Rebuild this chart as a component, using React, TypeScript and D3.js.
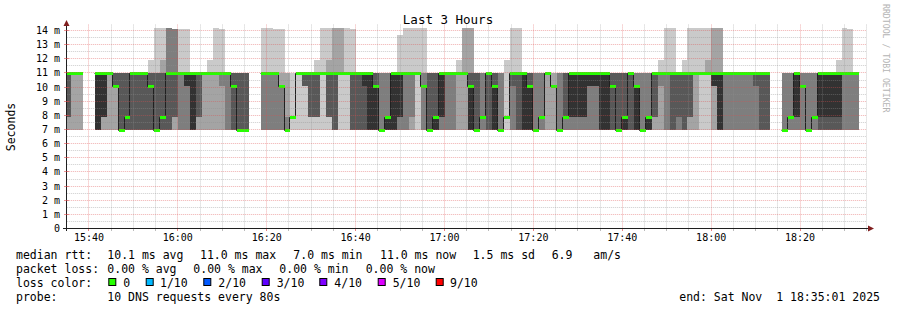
import React from "react";
import * as d3 from "d3";

// ---------- data ----------
const START = new Date(2025, 10, 1, 15, 35, 1);
const END = new Date(2025, 10, 1, 18, 35, 1);
const FIRST_STEP = new Date(2025, 10, 1, 15, 34, 40);
const STEP_SEC = 80;

// 10 sorted ping times (ms) per 80 s step; null = no data
const PINGS: (number[] | null)[] = [
  [7, 7, 7.9, 7.9, 11, 11, 11, 11, 11, 11],
  [7, 7, 11, 11, 11, 11, 11, 11, 11, 11],
  [7, 7, 11, 11, 11, 11, 11, 11, 11, 11],
  null,
  null,
  [7, 7, 7, 7, 7, 11, 11, 11, 11, 11],
  [7, 7, 7.9, 7.9, 7.9, 11, 11, 11, 11, 11],
  [7, 7, 11, 11, 11, 11, 11, 11, 11, 11],
  [7, 7, 10.1, 10.1, 10.1, 10.1, 11, 11, 11, 11],
  [7, 7, 7, 7, 7, 7, 11, 11, 11, 11],
  [7, 7, 7, 7, 7.9, 7.9, 11, 11, 11, 11],
  [7, 7, 7, 7, 11, 11, 11, 11, 11, 11],
  [7, 7, 7, 7, 11, 11, 11, 11, 11, 11],
  [7, 7, 7, 7, 11, 11, 11, 11, 11, 11],
  [7, 7, 7, 7, 10.1, 10.1, 11, 11, 11, 11.9],
  [7, 7, 7, 7, 7, 7, 11, 11, 11, 14.2],
  [7, 7, 7, 7, 7.9, 7.9, 11, 11, 11.9, 14.2],
  [7, 7, 7, 7, 11, 11, 11, 14.2, 14.2, 14.2],
  [7, 7, 7.9, 7.9, 11, 11, 11, 14.1, 14.1, 14.1],
  [7, 7, 7, 11, 11, 11, 11, 11, 11, 14.1],
  [7, 7, 7, 10.1, 10.1, 11, 11, 11, 11, 14.1],
  [7, 7, 7, 7, 7, 11, 11, 11, 11, 11],
  [7, 7, 7.9, 7.9, 11, 11, 11, 11, 11, 11],
  [7, 7, 11, 11, 11, 11, 11, 11, 11, 11],
  [7, 7, 11, 11, 11, 11, 11, 11, 11, 11.9],
  [7, 7, 11, 11, 11, 11, 11, 11, 11, 14.2],
  [7, 7, 10.1, 11, 11, 11, 11, 11, 11, 14.1],
  [7, 7, 7, 11, 11, 11, 11, 11, 11, 11],
  [7, 7, 7, 7, 10.1, 10.1, 11, 11, 11, 11],
  [7, 7, 7, 7, 7, 7, 11, 11, 11, 11],
  [7, 7, 7, 7, 7, 7, 11, 11, 11, 11],
  null,
  null,
  [7, 7, 7, 11, 11, 11, 11, 11, 11, 14.2],
  [7, 7, 7, 11, 11, 11, 11, 11, 11, 14.2],
  [7, 7, 7, 11, 11, 11, 11, 11, 11, 14.1],
  [7, 7, 7, 10.1, 10.1, 10.1, 10.1, 10.1, 11, 14.1],
  [7, 7, 7, 7, 7, 7, 7, 7.9, 11, 11],
  [7, 7.9, 7.9, 7.9, 7.9, 7.9, 7.9, 7.9, 7.9, 11],
  [7, 11, 11, 11, 11, 11, 11, 11, 11, 11],
  [7, 10.1, 10.1, 10.1, 11, 11, 11, 11, 11, 11],
  [7, 7.9, 7.9, 7.9, 11, 11, 11, 11, 11, 11],
  [7, 7.9, 7.9, 7.9, 11, 11, 11, 11, 11, 11.9],
  [7, 11, 11, 11, 11, 11, 11, 11, 11, 14.2],
  [7, 7.9, 7.9, 7.9, 11, 11, 11, 11, 11.9, 14.2],
  [7, 7, 7, 7, 11, 11, 11, 11, 14.2, 14.2],
  [7, 11, 11, 11, 11, 11, 11, 11, 14.2, 14.2],
  [7, 11, 11, 11, 11, 11, 11, 11, 11, 14.2],
  [7, 7, 7, 7, 11, 11, 11, 11, 11, 14.1],
  [7, 7, 7, 7, 11, 11, 11, 11, 11, 11],
  [7, 7, 7, 7, 10.1, 11, 11, 11, 11, 11],
  [7, 7, 7, 7, 7, 11, 11, 11, 11, 11],
  [7, 7, 7, 7, 7, 10.1, 11, 11, 11, 11],
  [7, 7, 7, 7, 7, 7, 7, 11, 11, 11],
  [7, 7, 7, 7, 7, 7.9, 7.9, 11, 11, 11],
  [7, 7, 7, 7, 7, 11, 11, 11, 11, 11],
  [7, 7, 7, 7.9, 7.9, 11, 11, 11, 11, 13.7],
  [7, 7, 7, 11, 11, 11, 11, 11, 11, 14.2],
  [7, 7, 7.9, 11, 11, 11, 11, 11, 11, 14.2],
  [7, 11, 11, 11, 11, 11, 11, 11, 11, 14.2],
  [7, 7, 7, 10.1, 10.1, 10.1, 10.1, 11, 11, 14.2],
  [7, 7, 7, 7, 7, 7, 11, 11, 11, 11],
  [7, 7, 7, 7, 7, 7.9, 11, 11, 11, 11],
  [7, 7, 7, 7.9, 7.9, 11, 11, 11, 11, 11],
  [7, 7, 7, 11, 11, 11, 11, 11, 11, 11],
  [7, 7, 7, 11, 11, 11, 11, 11, 11, 11],
  [7, 7, 11, 11, 11, 11, 11, 11, 11, 11.9],
  [7, 7, 11, 11, 11, 11, 11, 11, 14.2, 14.2],
  [7, 7, 7, 7, 7, 10.1, 11, 11, 14.2, 14.2],
  [7, 7, 7, 7, 7, 7, 11, 11, 11, 11],
  [7, 7, 7, 7.9, 7.9, 7.9, 7.9, 11, 11, 11],
  [7, 7, 7, 7, 11, 11, 11, 11, 11, 11],
  [7, 7, 7, 7, 7, 10.1, 11, 11, 11, 11],
  [7, 7, 7, 7, 7, 7, 7, 11, 11, 11],
  [7, 7.9, 7.9, 7.9, 7.9, 7.9, 7.9, 7.9, 7.9, 11.9],
  [7, 7, 7, 10.1, 11, 11, 11, 11, 11, 14.2],
  [7, 7, 7, 7, 11, 11, 11, 11, 11, 14.2],
  [7, 7, 7, 7, 7, 11, 11, 11, 11, 11],
  [7, 7, 7, 7, 7, 10.1, 11, 11, 11, 11],
  [7, 7, 7, 7, 7, 7, 7, 11, 11, 11],
  [7, 7, 7, 7.9, 7.9, 7.9, 7.9, 11, 11, 11],
  [7, 7, 11, 11, 11, 11, 11, 11, 11, 11],
  [7, 7, 10.1, 10.1, 10.1, 10.1, 10.1, 10.1, 11, 11],
  [7, 7, 7, 7, 7, 7, 7, 11, 11, 11],
  [7, 7, 7, 7.9, 7.9, 7.9, 11, 11, 11, 11],
  [7, 7, 7, 7.9, 7.9, 11, 11, 11, 11, 11],
  [7, 7, 7, 7.9, 7.9, 11, 11, 11, 11, 11],
  [7, 7, 7, 7.9, 7.9, 11, 11, 11, 11, 11],
  [7, 7, 7, 10.1, 10.1, 11, 11, 11, 11, 11],
  [7, 7, 7, 10.1, 10.1, 11, 11, 11, 11, 11],
  [7, 7, 7, 7, 7, 11, 11, 11, 11, 11],
  [7, 7, 7, 7, 7, 11, 11, 11, 11, 11],
  [7, 7, 7, 7, 10.1, 10.1, 11, 11, 11, 11],
  [7, 7, 7, 7, 7, 7, 11, 11, 11, 11],
  [7, 7, 7, 7, 7, 7.9, 11, 11, 11, 11],
  [7, 7, 7, 7, 11, 11, 11, 11, 11, 11],
  [7, 7, 7, 7, 7, 10.1, 10.1, 11, 11, 11],
  [7, 7, 7, 7, 7, 7, 7, 11, 11, 11],
  [7, 7, 7, 7, 7, 7.9, 7.9, 11, 11, 11],
  [7, 7, 7.9, 7.9, 11, 11, 11, 11, 11, 11],
  [7, 7, 10.1, 11, 11, 11, 11, 11, 11, 11.9],
  [7, 7, 7, 11, 11, 11, 11, 11, 11, 14.2],
  [7, 7, 7, 7, 11, 11, 11, 11, 11, 14.2],
  [7, 7, 7, 7.9, 11, 11, 11, 11, 11, 11],
  [7, 7, 7, 7, 11, 11, 11, 11, 11, 11.9],
  [7, 7, 7.9, 7.9, 11, 11, 11, 11, 11, 14.2],
  [7, 7, 11, 11, 11, 11, 11, 11, 11, 14.2],
  [7, 11, 11, 11, 11, 11, 11, 11, 11, 14.2],
  [7, 11, 11, 11, 11, 11, 11, 11, 11.9, 14.2],
  [7, 7, 10.1, 10.1, 10.1, 11, 11, 11, 14.2, 14.2],
  [7, 7, 7, 7, 7, 11, 11, 11, 14.2, 14.2],
  [7, 7, 7, 11, 11, 11, 11, 11, 11, 11],
  [7, 7, 7, 11, 11, 11, 11, 11, 11, 11],
  [7, 7, 7, 11, 11, 11, 11, 11, 11, 11],
  [7, 7, 7, 11, 11, 11, 11, 11, 11, 11],
  [7, 7, 7, 11, 11, 11, 11, 11, 11, 11],
  [7, 7, 7, 10.1, 11, 11, 11, 11, 11, 11],
  [7, 7, 7, 7, 11, 11, 11, 11, 11, 11],
  [7, 7, 7, 7, 11, 11, 11, 11, 11, 11],
  null,
  null,
  [7, 7, 7, 7, 7, 7, 7, 11, 11, 11],
  [7, 7, 7, 7.9, 7.9, 7.9, 7.9, 11, 11, 11],
  [7, 7, 7, 7.9, 7.9, 11, 11, 11, 11, 11],
  [7, 7, 7, 10.1, 10.1, 10.1, 10.1, 11, 11, 11],
  [7, 7, 7, 7, 7, 7, 7, 11, 11, 11],
  [7, 7, 7, 7.9, 7.9, 7.9, 7.9, 11, 11, 11],
  [7, 7, 7, 7, 7.9, 11, 11, 11, 11, 11],
  [7, 7, 7, 7, 7.9, 11, 11, 11, 11, 11],
  [7, 7, 7, 7, 7.9, 11, 11, 11, 11, 11],
  [7, 7, 7, 7, 7.9, 11, 11, 11, 11, 11.9],
  [7, 7, 7, 11, 11, 11, 11, 11, 11, 14.2],
  [7, 7, 7, 11, 11, 11, 11, 11, 11, 14.1],
  [7, 7, 7, 11, 11, 11, 11, 11, 11, 11],
];

const Y_MAX = 14.42;
const Y_TICKS = [0, 1, 2, 3, 4, 5, 6, 7, 8, 9, 10, 11, 12, 13, 14];
const SMOKE_COLORS = ["#cacaca", "#a4a4a4", "#7e7e7e", "#585858", "#323232"];

const LOSS_LABELS = ["0", "1/10", "2/10", "3/10", "4/10", "5/10", "9/10"];
const LOSS_COLORS = ["#26ff00", "#00b8ff", "#0059ff", "#5e00ff", "#7e00ff", "#dd00ff", "#ff0000"];

const LEGEND_RTT = ["median rtt:", "10.1 ms avg", "11.0 ms max", "7.0 ms min", "11.0 ms now", "1.5 ms sd", "6.9", "am/s"];
const LEGEND_LOSS = ["packet loss:", "0.00 % avg", "0.00 % max", "0.00 % min", "0.00 % now"];
const PROBE_TEXT = ["probe:", "10 DNS requests every 80s"];
const END_TEXT = "end: Sat Nov  1 18:35:01 2025";
const TITLE = "Last 3 Hours";
const Y_LABEL = "Seconds";
const WATERMARK = "RRDTOOL / TOBI OETIKER";

// ---------- layout ----------
const W = 897;
const H = 310;
const PLOT_L = 66.8;
const PLOT_R = 866.8;
const MONO = "'DejaVu Sans Mono', 'Liberation Mono', monospace";
const GRID_MINOR = "rgba(143,143,143,0.45)";
const GRID_MAJOR = "rgba(222,79,79,0.45)";

type Col = { t0: Date; t1: Date; p: number[] | null };
type Pt = { x: number; lo: number; hi: number } | null;

export default function App() {
  const x = d3.scaleTime().domain([START, END]).range([PLOT_L, PLOT_R]);
  const y = d3.scaleLinear().domain([0, 14]).range([228.5, 30.5]);
  const px = (t: Date) => Math.round(x(t));
  const py = (v: number) => Math.round(y(v));
  const yTop = y(Y_MAX);
  const yBase = y(0);

  const cols: Col[] = PINGS.map((p, i) => {
    const a = new Date(FIRST_STEP.getTime() + i * STEP_SEC * 1000);
    const b = new Date(a.getTime() + STEP_SEC * 1000);
    return {
      t0: a < START ? START : a,
      t1: b > END ? END : b,
      p: p ? [...p].sort((u, v) => u - v) : null,
    };
  });

  const area = d3
    .area<Pt>()
    .defined((d) => d !== null)
    .x((d) => (d as any).x)
    .y0((d) => py((d as any).lo))
    .y1((d) => py((d as any).hi));

  const bandPath = (b: number) => {
    const pts: Pt[] = [];
    cols.forEach((c) => {
      if (!c.p) {
        pts.push(null);
        return;
      }
      const lo = c.p[b];
      const hi = c.p[9 - b];
      pts.push({ x: px(c.t0), lo, hi }, { x: px(c.t1), lo, hi });
    });
    return area(pts) || "";
  };

  // median = upper middle value
  const medPts: Pt[] = [];
  cols.forEach((c) => {
    if (!c.p) {
      medPts.push(null);
      return;
    }
    const m = c.p[5];
    medPts.push({ x: px(c.t0), lo: m, hi: m }, { x: px(c.t1), lo: m, hi: m });
  });
  const medLine =
    d3
      .line<Pt>()
      .defined((d) => d !== null)
      .x((d) => (d as any).x - 0.5)
      .y((d) => py((d as any).lo) + 0.5)(medPts) || "";

  // grid
  const hMinor: number[] = [];
  const hMajor: number[] = [];
  for (let v = 0.5; v <= Y_MAX; v += 0.5) {
    if (Number.isInteger(v)) hMajor.push(v);
    else hMinor.push(v);
  }
  const vTimes = d3.timeMinute.every(5)!.range(START, END);
  const isMajorT = (t: Date) => t.getMinutes() % 20 === 0;
  const xTicks = vTimes.filter(isMajorT);
  const fmt = d3.timeFormat("%H:%M");
  const gy = (v: number) => Math.round(y(v) - 0.5) + 0.5;
  const gx = (t: Date) => Math.round(x(t) - 0.5) + 0.5;

  const legendRtX = [16, 107.3, 200, 293.3, 380, 472.7, 551.7, 593.3];
  const legendLossX = [16, 107.3, 193.3, 279.3, 365.7];
  const boxX = [108.3, 145.7, 203.3, 261.7, 319.3, 377.7, 435.7];
  const labX = [123.3, 160, 218.3, 276.7, 334.3, 392.7, 450];

  return (
    <svg
      width={W}
      height={H}
      viewBox={`0 0 ${W} ${H}`}
      style={{ position: "fixed", left: 0, top: 0, background: "#fff" }}
      fontFamily={MONO}
    >
      <rect x={0} y={0} width={W} height={H} fill="#ffffff" />

      {/* smoke */}
      <g>
        {SMOKE_COLORS.map((c, i) => (
          <path key={i} d={bandPath(i)} fill={c} shapeRendering="crispEdges" />
        ))}
      </g>

      {/* median line and loss colour */}
      <path d={medLine} fill="none" stroke="#202020" strokeWidth={1} />
      <g>
        {cols.map((c, i) =>
          c.p ? (
            <rect
              key={i}
              x={px(c.t0)}
              width={px(c.t1) - px(c.t0)}
              y={py(c.p[5]) - 1}
              height={3}
              fill={LOSS_COLORS[0]}
              shapeRendering="crispEdges"
            />
          ) : null
        )}
      </g>

      {/* grid */}
      <g strokeDasharray="1,1" strokeWidth={1}>
        {hMinor.map((v) => (
          <line key={"hm" + v} x1={PLOT_L} x2={PLOT_R} y1={gy(v)} y2={gy(v)} stroke={GRID_MINOR} />
        ))}
        {vTimes
          .filter((t) => !isMajorT(t))
          .map((t) => (
            <line key={"vm" + t.getTime()} x1={gx(t)} x2={gx(t)} y1={yTop} y2={yBase} stroke={GRID_MINOR} />
          ))}
        {hMajor.map((v) => (
          <line key={"hM" + v} x1={PLOT_L} x2={PLOT_R} y1={gy(v)} y2={gy(v)} stroke={GRID_MAJOR} />
        ))}
        {xTicks.map((t) => (
          <line key={"vM" + t.getTime()} x1={gx(t)} x2={gx(t)} y1={yTop} y2={yBase} stroke={GRID_MAJOR} />
        ))}
      </g>

      {/* axes */}
      <g>
        <line x1={63} x2={870} y1={yBase} y2={yBase} stroke="#1f1f1f" />
        <line x1={66.5} x2={66.5} y1={231} y2={24} stroke="#1f1f1f" />
        <path d={`M868,${yBase - 3} L874,${yBase} L868,${yBase + 3} Z`} fill="#801f1f" />
        <path d={`M63.5,26 L66.5,20 L69.5,26 Z`} fill="#801f1f" />
        {vTimes.map((t) => (
          <line
            key={"tk" + t.getTime()}
            x1={gx(t)}
            x2={gx(t)}
            y1={yBase + 0.5}
            y2={yBase + 2.5}
            stroke={isMajorT(t) ? "rgba(222,79,79,0.7)" : "rgba(143,143,143,0.6)"}
          />
        ))}
        {Y_TICKS.slice(1).map((v) => (
          <line key={"yt" + v} x1={64} x2={69} y1={gy(v)} y2={gy(v)} stroke="rgba(222,79,79,0.6)" />
        ))}
      </g>

      {/* axis labels */}
      <g fontSize={10} fill="#000">
        {Y_TICKS.map((v) => (
          <text key={"yl" + v} x={60} y={y(v) + 3.5} textAnchor="end">
            {v === 0 ? "0" : `${v} m`}
          </text>
        ))}
        {xTicks.map((t) => (
          <text key={"xl" + t.getTime()} x={x(t)} y={241} textAnchor="middle">
            {fmt(t)}
          </text>
        ))}
      </g>

      <text x={448} y={24} textAnchor="middle" fontSize={12.5}>
        {TITLE}
      </text>
      <text transform={`translate(15,127) rotate(-90)`} textAnchor="middle" fontSize={11.5}>
        {Y_LABEL}
      </text>
      <text transform={`translate(883,4) rotate(90)`} fontSize={8.2} fill="#b4b4b4">
        {WATERMARK}
      </text>

      {/* legend */}
      <g fontSize={11.5} fill="#000">
        {LEGEND_RTT.map((s, i) => (
          <text key={"r" + i} x={legendRtX[i]} y={258.5} xmlSpace="preserve">
            {s}
          </text>
        ))}
        {LEGEND_LOSS.map((s, i) => (
          <text key={"l" + i} x={legendLossX[i]} y={272.5} xmlSpace="preserve">
            {s}
          </text>
        ))}
        <text x={16} y={286.5}>
          loss color:
        </text>
        {LOSS_LABELS.map((s, i) => (
          <g key={"lc" + i}>
            <rect x={boxX[i] + 0.5} y={278.5} width={7} height={7} fill={LOSS_COLORS[i]} stroke="#000" />
            <text x={labX[i]} y={286.5}>
              {s}
            </text>
          </g>
        ))}
        <text x={16} y={300.5}>
          {PROBE_TEXT[0]}
        </text>
        <text x={107.3} y={300.5}>
          {PROBE_TEXT[1]}
        </text>
        <text x={880} y={300.5} textAnchor="end" xmlSpace="preserve" style={{ whiteSpace: "pre" }}>
          {END_TEXT}
        </text>
      </g>
    </svg>
  );
}
